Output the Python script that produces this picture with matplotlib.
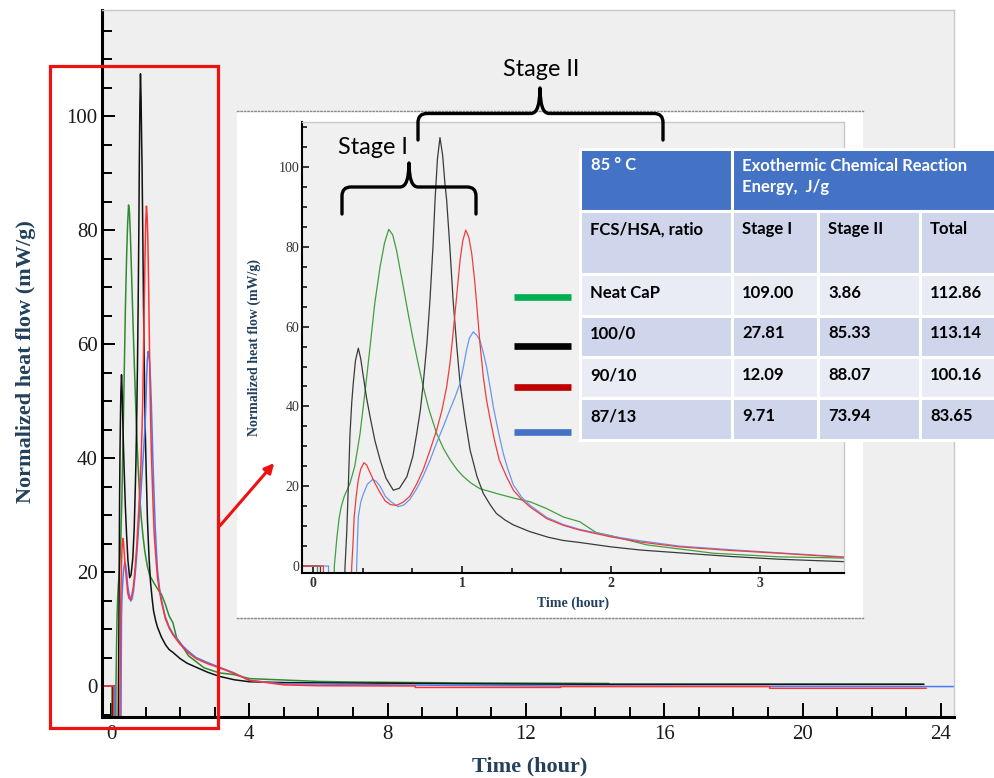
import matplotlib
matplotlib.use('Agg')
import matplotlib.pyplot as plt
from matplotlib.ticker import MultipleLocator
from matplotlib.patches import Rectangle, PathPatch, FancyArrowPatch
from matplotlib.path import Path
from matplotlib.lines import Line2D

plt.rcParams['font.family'] = 'Liberation Serif'

W, H = 995, 778  # figure size in pixels

# ---- heat flow curves (time in hour, heat flow in mW/g) ----
neat_t = [-0.19, 0.03, 0.03, 0.14, 0.143, 0.16, 0.175, 0.19, 0.21, 0.248, 0.28, 0.315, 0.35, 0.38,
          0.415, 0.45, 0.48, 0.508, 0.535, 0.56, 0.606, 0.64, 0.673, 0.71, 0.74, 0.78, 0.83, 0.875,
          0.92, 0.97, 1.01, 1.06, 1.12, 1.23, 1.35, 1.457, 1.568, 1.68, 1.79, 1.9, 2.0, 2.24, 2.69,
          3.13, 3.56, 4.0, 5.0, 6.0, 7.0, 10.0, 14.4, 14.4, 23.5]
neat_v = [0, 0, -6, -6, 0, 7, 12, 15, 17.5, 20.7, 25, 33, 44, 54,
          66, 75, 81, 84.4, 83, 79.2, 70, 63, 56.6, 50, 44.9, 39, 33.2, 29.5,
          26.6, 24, 22.4, 20.8, 19.4, 18.2, 17, 16.1, 14.4, 12.3, 11.1, 8.4, 7.6, 5.3, 3.2,
          2.3, 2.0, 1.3, 1.05, 0.8, 0.7, 0.55, 0.45, 0.3, 0.3]

r100_t = [-0.19, 0.05, 0.05, 0.21, 0.215, 0.226, 0.237, 0.248, 0.26, 0.27, 0.285, 0.304, 0.32, 0.338,
          0.36, 0.383, 0.415, 0.45, 0.49, 0.539, 0.58, 0.63, 0.67, 0.696, 0.72, 0.74, 0.765, 0.785,
          0.805, 0.819, 0.835, 0.852, 0.87, 0.885, 0.897, 0.92, 0.94, 0.965, 0.987, 1.02, 1.054,
          1.1, 1.143, 1.19, 1.23, 1.29, 1.345, 1.457, 1.58, 1.68, 1.79, 2.0, 2.2, 2.46, 2.8, 3.13,
          3.56, 4.0, 5.0, 6.0, 8.0, 10.0, 12.0, 14.4, 23.5]
r100_v = [0, 0, -6, -6, 0, 8.2, 20, 33, 41, 45.8, 51.5, 54.6, 52, 47.4,
          42, 37.4, 31.5, 26.6, 22, 19, 19.5, 22.4, 27.5, 33.2, 39, 45.8, 56, 66.7,
          80, 91.7, 102, 107.4, 103, 96, 91.7, 79, 66.7, 55, 45.8, 37, 29.1,
          22.5, 18.2, 15.3, 13.2, 11.5, 10.3, 8.6, 7.2, 6.4, 5.9, 4.8, 4.0, 3.3, 2.4, 1.7,
          1.1, 0.75, 0.6, 0.55, 0.5, 0.4, 0.35, 0.3, 0.3]

r90_t = [-0.19, 0.07, 0.07, 0.255, 0.26, 0.27, 0.276, 0.29, 0.304, 0.32, 0.342, 0.36, 0.383, 0.415,
         0.45, 0.485, 0.52, 0.56, 0.605, 0.65, 0.695, 0.74, 0.785, 0.83, 0.865, 0.897, 0.92, 0.94,
         0.965, 0.987, 1.005, 1.025, 1.045, 1.065, 1.085, 1.1, 1.12, 1.143, 1.165, 1.19, 1.22,
         1.25, 1.3, 1.345, 1.4, 1.457, 1.568, 1.68, 1.79, 2.0, 2.2, 2.46, 2.8, 3.13, 3.56, 4.0,
         5.0, 6.0, 8.8, 8.8, 13.0, 13.0, 19.05, 19.05, 23.57]
r90_v = [0, 0, -6, -6, 0, 7, 12.3, 17.5, 21.6, 24.3, 25.9, 25.3, 23.4, 20.8,
         18.4, 16.3, 15.4, 15.2, 16, 17.5, 20.5, 24.2, 29, 34.1, 39, 44.9, 51, 58.3,
         68, 76.7, 81.5, 84.2, 82.5, 78.4, 71.5, 65, 56, 47.4, 41.5, 36.6, 31.2,
         26.6, 22.3, 19, 16.7, 14.8, 11.9, 10.2, 9.0, 7.3, 6.0, 4.8, 3.9, 3.2, 2.2, 1.0,
         0.2, 0.05, 0.0, -0.25, -0.25, -0.1, -0.1, -0.4, -0.4]

r87_t = [-0.19, 0.104, 0.104, 0.29, 0.293, 0.298, 0.304, 0.32, 0.338, 0.365, 0.4, 0.425, 0.45,
         0.485, 0.52, 0.57, 0.61, 0.65, 0.695, 0.74, 0.785, 0.83, 0.875, 0.92, 0.955, 0.987,
         1.01, 1.03, 1.05, 1.076, 1.1, 1.12, 1.143, 1.165, 1.19, 1.21, 1.245, 1.277, 1.31,
         1.345, 1.4, 1.457, 1.568, 1.68, 1.79, 2.0, 2.2, 2.46, 2.8, 3.13, 3.56, 4.0, 5.0,
         6.0, 8.0, 10.0, 13.0, 24.4]
r87_v = [0, 0, -6, -6, 0, 6, 12.3, 16, 18.1, 20.5, 21.7, 21.2, 20.0,
         17.5, 16.2, 14.9, 15.3, 16.7, 19.3, 22.6, 26.5, 30.9, 35, 39.3, 42.5, 45.8,
         50, 54.1, 57.2, 58.7, 57.8, 56.6, 53.5, 49.9, 44.5, 39.9, 33.5, 28.2, 24,
         20.3, 17.3, 15.2, 12.2, 10.4, 9.2, 7.5, 6.3, 5.0, 4.1, 3.3, 2.3, 1.0, 0.35,
         0.35, 0.2, 0.1, 0.0, -0.1]

# draw order, colour in main plot, colour in inset
curves = [
    (neat_t, neat_v, '#2E8B2E', '#3F9F3F'),
    (r100_t, r100_v, '#111111', '#3A3A3A'),
    (r87_t, r87_v, '#4A7BFF', '#6A96F0'),
    (r90_t, r90_v, '#FF3333', '#F03C3C'),
]

# ---- table values ----
samples = ['Neat CaP', '100/0', '90/10', '87/13']
stage1 = [109.00, 27.81, 12.09, 9.71]
stage2 = [3.86, 85.33, 88.07, 73.94]
total = [112.86, 113.14, 100.16, 83.65]
legend_colors = ['#00B050', '#000000', '#C00000', '#4472C4']

label_color = '#23405C'


def fx(px):
    return px / W


def fy(py):
    return 1 - py / H


fig = plt.figure(figsize=(W / 100, H / 100), dpi=100)

# ---------------- main plot ----------------
ax = fig.add_axes([fx(102.5), fy(716.5), (954 - 102.5) / W, (716.5 - 10) / H])
ax.set_facecolor('#EFEFEF')
for t, v, c, _ in curves:
    ax.plot(t, v, color=c, lw=1.1)
ax.set_xlim(-0.246, 24.38)
ax.set_ylim(-5.35, 118.6)
ax.xaxis.set_major_locator(MultipleLocator(4))
ax.xaxis.set_minor_locator(MultipleLocator(1))
ax.yaxis.set_major_locator(MultipleLocator(20))
ax.yaxis.set_minor_locator(MultipleLocator(5))
ax.tick_params(which='both', direction='in', width=1.4, top=False, right=False,
               labelsize=15, labelcolor='#1a1a1a')
ax.tick_params(axis='y', which='major', length=9.5, pad=3.5)
ax.tick_params(axis='x', which='major', length=10, pad=6)
ax.tick_params(which='minor', length=7)
for s in ['left', 'bottom']:
    ax.spines[s].set_linewidth(2.2)
for s in ['top', 'right']:
    ax.spines[s].set_color('#C8C8C8')
    ax.spines[s].set_linewidth(1)
ax.set_xlabel('Time (hour)', fontsize=16, fontweight='bold', color=label_color)
ax.set_ylabel('Normalized heat flow (mW/g)', fontsize=16, fontweight='bold', color=label_color)
ax.xaxis.set_label_coords(0.502, -0.056)
ax.yaxis.set_label_coords(-0.078, 0.5025)

# ---------------- white backdrop of the inset ----------------
ax_bg = fig.add_axes([fx(237), fy(618), 626 / W, 507 / H])
ax_bg.set_facecolor('white')
ax_bg.set_xticks([])
ax_bg.set_yticks([])
for s in ['left', 'right']:
    ax_bg.spines[s].set_visible(False)
for s in ['top', 'bottom']:
    ax_bg.spines[s].set_linestyle((0, (1, 1.5)))
    ax_bg.spines[s].set_color('#8A8A8A')
    ax_bg.spines[s].set_linewidth(1)

# ---------------- inset (zoom on first hours) ----------------
ax_in = fig.add_axes([fx(302), fy(573), 542 / W, 451 / H])
ax_in.set_facecolor('#F0F0F0')
for t, v, _, c in curves:
    ax_in.plot(t, v, color=c, lw=0.9)
ax_in.set_xlim(-0.074, 3.564)
ax_in.set_ylim(-1.75, 111.3)
ax_in.xaxis.set_major_locator(MultipleLocator(1))
ax_in.xaxis.set_minor_locator(MultipleLocator(1 / 3))
ax_in.yaxis.set_major_locator(MultipleLocator(20))
ax_in.yaxis.set_minor_locator(MultipleLocator(5))
ax_in.tick_params(which='both', direction='in', width=1.1, top=False, right=False,
                  labelsize=10, labelcolor='#333333')
ax_in.tick_params(which='major', length=5)
ax_in.tick_params(which='minor', length=3.5)
ax_in.tick_params(axis='y', pad=2)
ax_in.tick_params(axis='x', pad=3)
for lbl in ax_in.get_xticklabels():
    lbl.set_fontweight('bold')
for s in ['left', 'bottom']:
    ax_in.spines[s].set_linewidth(1.5)
for s in ['top', 'right']:
    ax_in.spines[s].set_color('#C8C8C8')
    ax_in.spines[s].set_linewidth(1)
ax_in.set_xlabel('Time (hour)', fontsize=10, fontweight='bold', color=label_color)
ax_in.set_ylabel('Normalized heat flow (mW/g)', fontsize=10, fontweight='bold', color=label_color)
ax_in.xaxis.set_label_coords(0.5, -0.053)
ax_in.yaxis.set_label_coords(-0.0757, 0.501)

# ---------------- table ----------------
ax_tb = fig.add_axes([fx(580), fy(440), 415 / W, 291 / H])
ax_tb.set_xlim(580, 995)
ax_tb.set_ylim(440, 149)
ax_tb.axis('off')
col_edges = [580, 732, 818, 920, 1010]
row_edges = [149, 211, 274, 315.5, 356.5, 398, 440]
head_blue = '#4472C4'
light = '#E9EBF5'
dark = '#CFD5EA'


def cell(x0, x1, y0, y1, color):
    ax_tb.add_patch(Rectangle((x0, y0), x1 - x0, y1 - y0, facecolor=color,
                              edgecolor='white', lw=2.2, clip_on=False))


tfont = dict(family='Lato', fontsize=12, fontweight='bold', va='center', ha='left')
cell(col_edges[0], col_edges[1], row_edges[0], row_edges[1], head_blue)
cell(col_edges[1], col_edges[4], row_edges[0], row_edges[1], head_blue)
ax_tb.text(col_edges[0] + 11, 165, '85 \u00b0 C', color='white', **tfont)
ax_tb.text(col_edges[1] + 10, 176.5, 'Exothermic Chemical Reaction\nEnergy,  J/g', color='white',
           linespacing=1.4, **tfont)

header = ['FCS/HSA, ratio', 'Stage I', 'Stage II', 'Total']
for j in range(4):
    cell(col_edges[j], col_edges[j + 1], row_edges[1], row_edges[2], dark)
    ax_tb.text(col_edges[j] + 10, 229.3, header[j], color='black', **tfont)

row_y = [292.7, 333.3, 375, 416]
for i, name in enumerate(samples):
    shade = light if i % 2 == 0 else dark
    vals = [name, '%.2f' % stage1[i], '%.2f' % stage2[i], '%.2f' % total[i]]
    for j in range(4):
        cell(col_edges[j], col_edges[j + 1], row_edges[i + 2], row_edges[i + 3], shade)
        ax_tb.text(col_edges[j] + 10, row_y[i], vals[j], color='black', **tfont)

# legend bars beside the table rows
for c, y in zip(legend_colors, [296.5, 346, 386.5, 432]):
    fig.add_artist(Line2D([fx(514), fx(571)], [fy(y), fy(y)], color=c, lw=4.8,
                          transform=fig.transFigure, solid_capstyle='butt'))


# ---------------- stage braces ----------------
def brace(x0, x1, xm, yb, ytip, yend, r=9):
    pts = [(x0, yend), (x0, yb + r), (x0, yb), (x0 + r, yb), (xm - r, yb),
           (xm, yb), (xm, ytip), (xm, yb), (xm + r, yb), (x1 - r, yb),
           (x1, yb), (x1, yb + r), (x1, yend)]
    codes = [Path.MOVETO, Path.LINETO, Path.CURVE3, Path.CURVE3, Path.LINETO,
             Path.CURVE3, Path.CURVE3, Path.CURVE3, Path.CURVE3, Path.LINETO,
             Path.CURVE3, Path.CURVE3, Path.LINETO]
    verts = [(fx(x), fy(y)) for x, y in pts]
    fig.add_artist(PathPatch(Path(verts, codes), fill=False, lw=2.4, color='black',
                             transform=fig.transFigure, capstyle='round', joinstyle='round'))


brace(342, 476, 409, 187, 163, 214)
brace(418, 663, 540, 113.5, 88, 140)
fig.text(fx(372.5), fy(147), 'Stage I', family='Lato', fontsize=16.8, ha='center', va='center')
fig.text(fx(541), fy(70), 'Stage II', family='Lato', fontsize=16.8, ha='center', va='center')

# ---------------- red frame and arrow ----------------
fig.add_artist(Rectangle((fx(50), fy(728)), (218 - 50) / W, (728 - 66) / H, fill=False,
                         edgecolor='#EE1111', lw=2.3, transform=fig.transFigure))
fig.add_artist(FancyArrowPatch((fx(218), fy(528)), (fx(276), fy(461)), arrowstyle='-|>',
                               mutation_scale=14, lw=2.2, color='#EE1111',
                               transform=fig.transFigure))

fig.savefig('out.png', dpi=100)
